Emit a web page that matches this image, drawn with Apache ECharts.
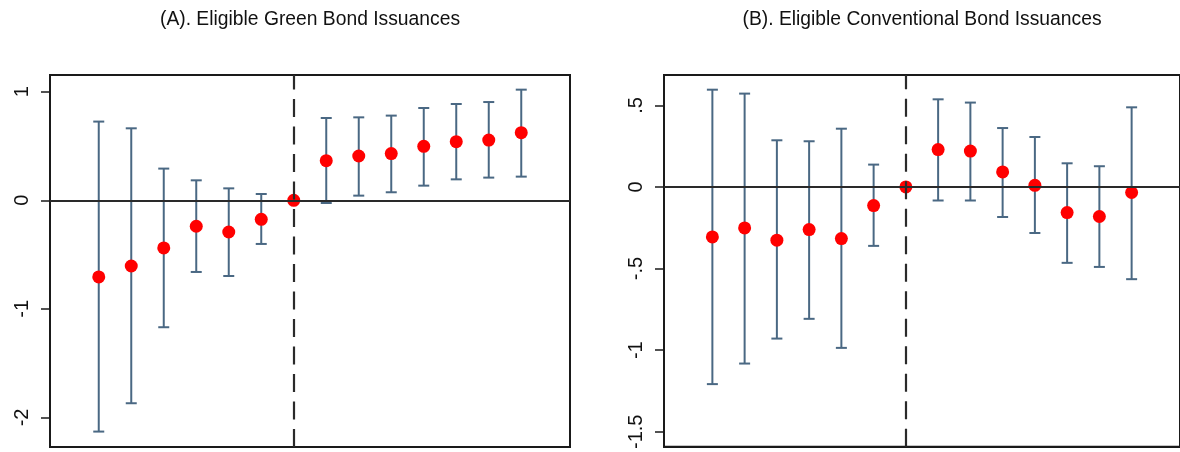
<!DOCTYPE html>
<html>
<head>
<meta charset="utf-8">
<script src="https://cdn.jsdelivr.net/npm/echarts@6/dist/echarts.min.js"></script>
<style>
html,body{margin:0;padding:0;background:#fff;}
#c{width:1180px;height:452px;}
</style>
</head>
<body>
<div id="c"></div>
<script>
// Event-time periods
const periods = [-6,-5,-4,-3,-2,-1,0,1,2,3,4,5,6,7];

// Panel A: Eligible Green Bond Issuances
const titleA = "(A). Eligible Green Bond Issuances";
const coefA = [-0.706,-0.605,-0.439,-0.239,-0.292,-0.175,0,0.365,0.408,0.430,0.497,0.540,0.555,0.623];
const hiA   = [0.725,0.663,0.292,0.184,0.110,0.058,null,0.758,0.764,0.780,0.850,0.887,0.905,1.019];
const loA   = [-2.13,-1.869,-1.169,-0.660,-0.697,-0.402,null,-0.025,0.043,0.074,0.135,0.193,0.209,0.218];
const ticksA = [-2,-1,0,1];
const tickLabelsA = ["-2","-1","0","1"];

// Panel B: Eligible Conventional Bond Issuances
const titleB = "(B). Eligible Conventional Bond Issuances";
const coefB = [-0.306,-0.251,-0.326,-0.261,-0.316,-0.114,0,0.229,0.220,0.092,0.010,-0.157,-0.181,-0.034];
const hiB   = [0.596,0.572,0.286,0.280,0.357,0.137,null,0.537,0.517,0.361,0.306,0.145,0.127,0.488];
const loB   = [-1.208,-1.082,-0.929,-0.808,-0.986,-0.361,null,-0.083,-0.083,-0.184,-0.282,-0.465,-0.490,-0.565];
const ticksB = [-1.5,-1,-0.5,0,0.5];
const tickLabelsB = ["-1.5","-1","-.5","0",".5"];

const FONT = "Liberation Sans, Arial, sans-serif";
const barColor = "#4a6883";
const frameColor = "#1a1a1a";

function ciData(lo, hi){
  const out = [];
  periods.forEach((p,i)=>{ if(lo[i]!==null && hi[i]!==null) out.push([p, lo[i], hi[i]]); });
  return out;
}
function ptData(c){ return periods.map((p,i)=>[p,c[i]]); }

function renderCI(params, api){
  const x = api.value(0);
  const a = api.coord([x, api.value(1)]);
  const b = api.coord([x, api.value(2)]);
  const w = 5.5;
  const st = {stroke: barColor, lineWidth: 2};
  return {type:'group', children:[
    {type:'line', shape:{x1:a[0],y1:a[1],x2:b[0],y2:b[1]}, style:st},
    {type:'line', shape:{x1:a[0]-w,y1:a[1],x2:a[0]+w,y2:a[1]}, style:st},
    {type:'line', shape:{x1:b[0]-w,y1:b[1],x2:b[0]+w,y2:b[1]}, style:st}
  ]};
}

function yAxis(idx, min, max, ticks, labels){
  return {
    type:'value', gridIndex: idx, min: min, max: max, position:'left',
    splitLine:{show:false},
    axisLine:{show:true, onZero:false, lineStyle:{color:frameColor, width:2}},
    axisTick:{show:true, inside:false, length:9, lineStyle:{color:frameColor, width:1.5}, customValues: ticks},
    axisLabel:{show:true, rotate:90, margin:18, fontFamily:FONT, fontSize:20, color:'#111',
      customValues: ticks,
      formatter: function(v){ const k = ticks.findIndex(t=>Math.abs(t-v)<1e-9); return k>=0?labels[k]:''; }}
  };
}
function xAxis(idx){
  return {
    type:'value', gridIndex: idx, min:-7.5, max:8.5, position:'bottom',
    splitLine:{show:false},
    axisLine:{show:true, onZero:false, lineStyle:{color:frameColor, width:2}},
    axisTick:{show:false}, axisLabel:{show:false}
  };
}

function refLines(){
  return {
    silent:true, symbol:['none','none'], label:{show:false}, animation:false,
    data:[
      {yAxis:0, lineStyle:{type:'solid', color:'#2a2a2a', width:2}},
      {xAxis:0, lineStyle:{type:[18,9.5], color:'#2a2a2a', width:2.2}}
    ]
  };
}

const chart = echarts.init(document.getElementById('c'), null, {renderer:'canvas'});
chart.setOption({
  animation:false,
  backgroundColor:'#fff',
  title:[
    {text:titleA, left:305, top:5, textAlign:'center', textStyle:{fontFamily:FONT, fontSize:19.3, fontWeight:'normal', color:'#111'}},
    {text:titleB, left:917, top:5, textAlign:'center', textStyle:{fontFamily:FONT, fontSize:19.3, fontWeight:'normal', color:'#111'}}
  ],
  grid:[
    {left:50, top:75, width:520, height:372, show:true, borderColor:frameColor, borderWidth:2, backgroundColor:'transparent'},
    {left:664, top:75, width:520, height:372, show:true, borderColor:frameColor, borderWidth:2, backgroundColor:'transparent'}
  ],
  xAxis:[xAxis(0), xAxis(1)],
  yAxis:[yAxis(0,-2.272,1.154,ticksA,tickLabelsA), yAxis(1,-1.592,0.686,ticksB,tickLabelsB)],
  series:[
    {type:'custom', xAxisIndex:0, yAxisIndex:0, renderItem:renderCI, data:ciData(loA,hiA), z:2, markLine:refLines()},
    {type:'scatter', xAxisIndex:0, yAxisIndex:0, data:ptData(coefA), symbolSize:13, itemStyle:{color:'#ff0000', opacity:1}, z:3},
    {type:'custom', xAxisIndex:1, yAxisIndex:1, renderItem:renderCI, data:ciData(loB,hiB), z:2, markLine:refLines()},
    {type:'scatter', xAxisIndex:1, yAxisIndex:1, data:ptData(coefB), symbolSize:13, itemStyle:{color:'#ff0000', opacity:1}, z:3}
  ]
});
</script>
</body>
</html>
